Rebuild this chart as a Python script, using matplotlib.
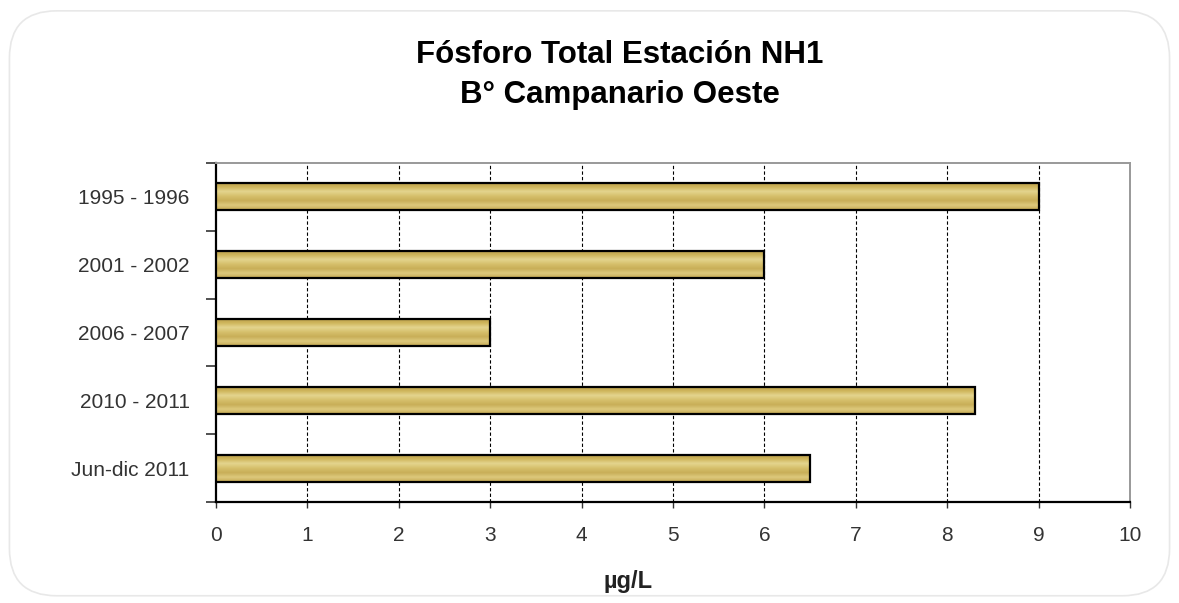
import numpy as np
import matplotlib.pyplot as plt
from matplotlib.patches import FancyBboxPatch
from matplotlib.colors import LinearSegmentedColormap

plt.rcParams['font.family'] = ['Liberation Sans', 'DejaVu Sans']

periods = ["1995 - 1996", "2001 - 2002", "2006 - 2007", "2010 - 2011", "Jun-dic 2011"]
values = [9, 6, 3, 8.3, 6.5]

fig = plt.figure(figsize=(11.79, 6.03), dpi=100)

# rounded outer frame, kept behind the axes
frame = FancyBboxPatch((0.008, 0.012), 0.984, 0.97, boxstyle="round,pad=0,rounding_size=0.04",
                       transform=fig.transFigure, facecolor="none", edgecolor="#e8e8e8",
                       linewidth=1.2, mutation_aspect=1179 / 603, zorder=-1)
fig.patches.append(frame)

ax = fig.add_axes([0.1832, 0.1675, 0.7752, 0.5622])
ax.set_facecolor("white")

y = np.arange(len(periods))
bar_h = 0.4
bars = ax.barh(y, values, height=bar_h, facecolor="none", edgecolor="black", linewidth=1.6, zorder=4)

# golden striped gradient inside the bars
gold = LinearSegmentedColormap.from_list("gold", ["#b89c48", "#cfb65c", "#e4d48e", "#d6c06c", "#c8ae58", "#ddc97c", "#c6aa54"])
grad = np.linspace(0, 1, 64).reshape(-1, 1)
for b in bars:
    x0, y0 = b.get_x(), b.get_y()
    im = ax.imshow(grad, cmap=gold, aspect="auto", extent=(x0, x0 + b.get_width(), y0 + b.get_height(), y0),
                   zorder=3, interpolation="bilinear")
    im.set_clip_path(b)

ax.set_xlim(0, 10)
ax.set_ylim(len(periods) - 0.5, -0.5)
ax.set_xticks(range(0, 11))
ax.tick_params(axis="x", direction="out", length=4, width=1, labelsize=15, colors="#333333", pad=13)
ax.set_yticks(y)
ax.set_yticklabels(periods)
ax.tick_params(axis="y", which="major", length=0, labelsize=15, colors="#333333", pad=19)
ax.set_yticks(np.arange(-0.5, len(periods)), minor=True)
ax.tick_params(axis="y", which="minor", direction="out", length=7, width=1.2, color="#333333")

for xv in range(1, 10):
    ax.axvline(xv, color="black", linestyle=(0, (3, 2)), linewidth=0.8, zorder=1)

for s in ["left", "bottom"]:
    ax.spines[s].set_color("black")
    ax.spines[s].set_linewidth(1.6)
for s in ["top", "right"]:
    ax.spines[s].set_color("#999999")
    ax.spines[s].set_linewidth(1.4)

ax.set_xlabel("µg/L", fontsize=17, fontweight="bold", color="#222222")
ax.xaxis.set_label_coords(0.451, -0.2)

fig.text(0.526, 0.908, "Fósforo Total Estación NH1", ha="center", va="center", fontsize=22.5, fontweight="bold")
fig.text(0.526, 0.842, "B° Campanario Oeste", ha="center", va="center", fontsize=22.5, fontweight="bold")

fig.savefig("out.png", dpi=100)
